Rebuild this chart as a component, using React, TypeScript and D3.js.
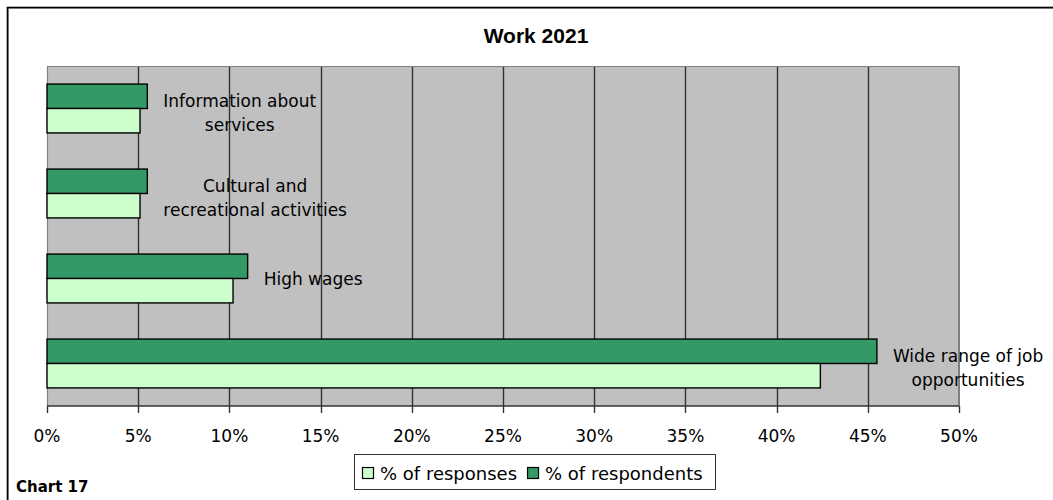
import React, { useEffect, useRef } from "react";
import * as d3 from "d3";

const categories = [
  "Information about services",
  "Cultural and recreational activities",
  "High wages",
  "Wide range of job opportunities",
];
const categoryLabelLines = [
  ["Information about", "services"],
  ["Cultural and", "recreational activities"],
  ["High wages"],
  ["Wide range of job", "opportunities"],
];
const respondents = [5.5, 5.5, 11.0, 45.5];
const responses = [5.1, 5.1, 10.2, 42.4];
const seriesNames = ["% of respondents", "% of responses"];
const legendNames = ["% of responses", "% of respondents"];
const xTicks = [0, 5, 10, 15, 20, 25, 30, 35, 40, 45, 50];
const title = "Work 2021";
const footnote = "Chart 17";

const W = 1053;
const H = 500;
const FONT = "'DejaVu Sans', Verdana, sans-serif";
const colors: Record<string, string> = {
  "% of respondents": "#339966",
  "% of responses": "#CCFFCC",
};

export default function App() {
  const ref = useRef<SVGSVGElement | null>(null);

  useEffect(() => {
    const svg = d3.select(ref.current);
    svg.selectAll("*").remove();

    const left = 47, right = 959, top = 66, bottom = 406;

    // outer chart frame
    svg.append("rect").attr("x", 0).attr("y", 0).attr("width", W).attr("height", H).attr("fill", "#fff");
    svg.append("rect").attr("x", 8.5).attr("y", 8.5).attr("width", W + 50).attr("height", H + 50)
      .attr("fill", "none").attr("stroke", "#aaa").attr("stroke-width", 1);
    svg.append("rect").attr("x", 7.5).attr("y", 7.5).attr("width", W + 50).attr("height", H + 50)
      .attr("fill", "none").attr("stroke", "#000").attr("stroke-width", 1.6);

    // title
    svg.append("text").attr("x", 536).attr("y", 43).attr("text-anchor", "middle")
      .attr("font-family", "'Liberation Sans', Arial, sans-serif").attr("font-weight", "bold")
      .attr("font-size", 21).attr("fill", "#000").text(title);

    const x = d3.scaleLinear().domain([0, 50]).range([left, right]);
    const y = d3.scaleBand<string>().domain(categories).range([top, bottom]).padding(0);
    const ys = d3.scaleBand<string>().domain(seriesNames).range([0, y.bandwidth()])
      .paddingInner(0).paddingOuter(0.74);

    // plot area
    svg.append("rect").attr("x", left).attr("y", top).attr("width", right - left).attr("height", bottom - top)
      .attr("fill", "#C0C0C0");

    // gridlines
    svg.append("g").selectAll("line").data(xTicks.filter((d) => d > 0 && d < 50)).join("line")
      .attr("x1", (d) => Math.round(x(d)) + 0.5).attr("x2", (d) => Math.round(x(d)) + 0.5)
      .attr("y1", top).attr("y2", bottom)
      .attr("stroke", "#333").attr("stroke-width", 1.4);

    // plot border top and right
    svg.append("line").attr("x1", left).attr("x2", right).attr("y1", top + 0.5).attr("y2", top + 0.5)
      .attr("stroke", "#808080").attr("stroke-width", 1.2);
    svg.append("line").attr("x1", right).attr("x2", right).attr("y1", top).attr("y2", bottom)
      .attr("stroke", "#808080").attr("stroke-width", 2);
    svg.append("line").attr("x1", left + 0.5).attr("x2", left + 0.5).attr("y1", top).attr("y2", bottom)
      .attr("stroke", "#808080").attr("stroke-width", 1.2);

    // bars
    const valuesBySeries: Record<string, number[]> = {
      "% of respondents": respondents,
      "% of responses": responses,
    };
    const barData = categories.flatMap((c, i) =>
      seriesNames.map((s) => ({ c, s, v: valuesBySeries[s][i] }))
    );
    svg.append("g").selectAll("rect").data(barData).join("rect")
      .attr("x", x(0))
      .attr("y", (d) => (y(d.c) as number) + (ys(d.s) as number))
      .attr("width", (d) => x(d.v) - x(0))
      .attr("height", ys.bandwidth())
      .attr("fill", (d) => colors[d.s])
      .attr("stroke", "#000").attr("stroke-width", 1.4);

    // x axis
    svg.append("line").attr("x1", left).attr("x2", right).attr("y1", bottom).attr("y2", bottom)
      .attr("stroke", "#333").attr("stroke-width", 1.4);
    const ax = svg.append("g");
    ax.selectAll("line").data(xTicks).join("line")
      .attr("x1", (d) => Math.round(x(d)) + 0.5).attr("x2", (d) => Math.round(x(d)) + 0.5)
      .attr("y1", bottom).attr("y2", bottom + 7)
      .attr("stroke", "#333").attr("stroke-width", 1.4);
    ax.selectAll("text").data(xTicks).join("text")
      .attr("x", (d) => x(d)).attr("y", 442).attr("text-anchor", "middle")
      .attr("font-family", FONT).attr("font-size", 17).attr("fill", "#000")
      .text((d) => `${d}%`);

    // category data labels
    const lineH = 23.5;
    categories.forEach((c, i) => {
      const lines = categoryLabelLines[i];
      const cy = (y(c) as number) + y.bandwidth() / 2;
      const g = svg.append("g");
      const texts = lines.map((ln, j) => {
        const base = cy + 6.5 + (j - (lines.length - 1) / 2) * lineH + (lines.length > 1 ? 4 : 0);
        return g.append("text").attr("y", base).attr("text-anchor", "middle")
          .attr("font-family", FONT).attr("font-size", 17).attr("fill", "#000").text(ln);
      });
      const maxW = d3.max(texts, (t) => (t.node() as SVGTextElement).getComputedTextLength()) || 0;
      const cx = x(respondents[i]) + 16 + maxW / 2;
      texts.forEach((t) => t.attr("x", cx));
    });

    // legend
    const lg = svg.append("g");
    lg.append("rect").attr("x", 354.5).attr("y", 454.5).attr("width", 361).attr("height", 35)
      .attr("fill", "#fff").attr("stroke", "#333").attr("stroke-width", 1);
    let lx = 362;
    legendNames.forEach((n) => {
      lg.append("rect").attr("x", lx + 0.5).attr("y", 467.5).attr("width", 11).attr("height", 11)
        .attr("fill", colors[n]).attr("stroke", "#000").attr("stroke-width", 1.2);
      const t = lg.append("text").attr("x", lx + 18).attr("y", 479.5)
        .attr("font-family", FONT).attr("font-size", 18).attr("fill", "#000").text(n);
      lx = lx + 18 + (t.node() as SVGTextElement).getComputedTextLength() + 10;
    });

    // footnote
    svg.append("text").attr("x", 16).attr("y", 492)
      .attr("font-family", FONT).attr("font-weight", "bold").attr("font-size", 15)
      .attr("fill", "#000").text(footnote);
  }, []);

  return (
    <svg
      ref={ref}
      width={W}
      height={H}
      style={{ position: "absolute", left: 0, top: 0, display: "block" }}
    />
  );
}
